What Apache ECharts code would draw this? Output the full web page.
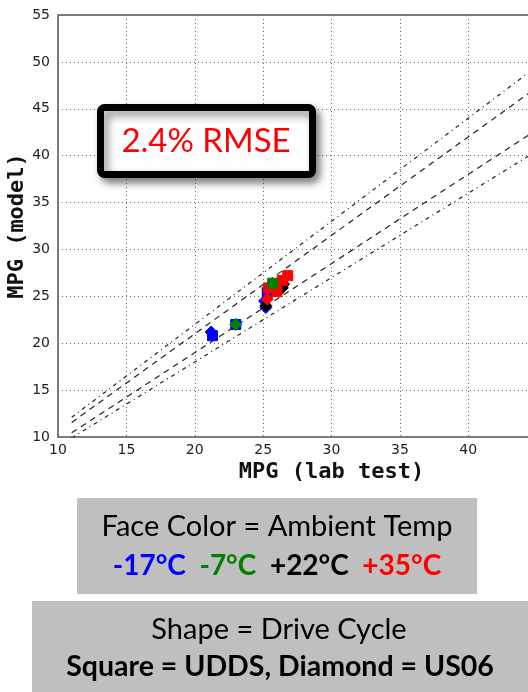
<!DOCTYPE html>
<html>
<head>
<meta charset="utf-8">
<script src="https://cdn.jsdelivr.net/npm/echarts@6/dist/echarts.min.js"></script>
<style>
  html, body { margin: 0; padding: 0; width: 528px; height: 692px; overflow: hidden; background: #fff; }
  #chart { width: 640px; height: 692px; }
</style>
</head>
<body>
<div id="chart"></div>
<script>
// reference lines (+10%, +5%, -5%, -10%)
var refX = [11, 50];
var plus10 = [12.1, 55];
var plus5 = [11.55, 52.5];
var minus5 = [10.45, 47.5];
var minus10 = [9.9, 45];

// points [lab test, model], square = UDDS, diamond = US06
var blueUdds = [[21.3, 20.8], [23.0, 22.0], [25.3, 25.4]];
var blueUs06 = [[21.2, 21.2], [25.1, 24.5], [25.2, 23.8]];
var greenUdds = [[25.7, 26.4]];
var greenUs06 = [[23.0, 22.0]];
var blackUs06 = [[25.2, 24.0], [26.4, 25.9], [26.5, 26.3]];
var redUdds = [[25.4, 25.9], [26.0, 25.5], [26.4, 26.7], [26.8, 27.2]];
var redUs06 = [[25.3, 24.7]];

var xTicks = { min: 10, max: 50, step: 5 };
var yTicks = { min: 10, max: 55, step: 5 };

function refLine(ys, dash) {
  return {
    type: 'line', data: refX.map(function(x, i) { return [x, ys[i]]; }),
    symbol: 'none', silent: true, z: 1,
    lineStyle: { color: '#222', width: 1.2, type: dash }
  };
}
function pts(data, color, shape) {
  return {
    type: 'scatter', data: data, symbol: shape,
    symbolSize: shape === 'rect' ? 10 : 12, z: 3,
    itemStyle: { color: color, borderColor: color, borderWidth: 1, opacity: 1 }
  };
}

var font = 'Lato, "Open Sans", sans-serif';
var chart = echarts.init(document.getElementById('chart'), null, { renderer: 'canvas' });
chart.setOption({
  animation: false,
  grid: {
    left: 58, top: 15, width: 547, height: 422, outerBoundsMode: 'none', containLabel: false,
    show: true, borderColor: '#555', borderWidth: 1.5
  },
  xAxis: {
    type: 'value', min: xTicks.min, max: xTicks.max, interval: xTicks.step,
    name: 'MPG (lab test)', nameLocation: 'middle', nameGap: 24, nameMoveOverlap: false,
    nameTextStyle: { fontFamily: '"DejaVu Sans Mono"', fontWeight: 'bold', fontSize: 22, color: '#111' },
    axisLine: { show: false }, axisTick: { show: false },
    axisLabel: { fontFamily: '"DejaVu Sans"', fontSize: 14, color: '#222', margin: 6 },
    splitLine: { lineStyle: { color: '#666', type: [1, 3], width: 1 } }
  },
  yAxis: {
    type: 'value', min: yTicks.min, max: yTicks.max, interval: yTicks.step,
    name: 'MPG (model)', nameLocation: 'middle', nameGap: 30, nameMoveOverlap: false,
    nameTextStyle: { fontFamily: '"DejaVu Sans Mono"', fontWeight: 'bold', fontSize: 22, color: '#111' },
    axisLine: { show: false }, axisTick: { show: false },
    axisLabel: { fontFamily: '"DejaVu Sans"', fontSize: 14, color: '#222', margin: 8 },
    splitLine: { lineStyle: { color: '#666', type: [1, 3], width: 1 } }
  },
  series: [
    refLine(plus10, [4, 4, 1, 4]),
    refLine(plus5, [6, 5]),
    refLine(minus5, [6, 5]),
    refLine(minus10, [4, 4, 1, 4]),
    pts(blueUdds, '#0000ff', 'rect'),
    pts(blueUs06, '#0000ff', 'diamond'),
    pts(greenUs06, '#008000', 'diamond'),
    pts(blackUs06, '#000000', 'diamond'),
    pts(redUs06, '#ff0000', 'diamond'),
    pts(redUdds, '#ff0000', 'rect'),
    pts(greenUdds, '#008000', 'rect')
  ],
  graphic: [
    {
      type: 'rect', z: 10,
      shape: { x: 100.5, y: 107.5, width: 212, height: 67, r: 4 },
      style: { fill: '#fff', stroke: '#000', lineWidth: 7, shadowBlur: 8, shadowOffsetX: 4, shadowOffsetY: 5, shadowColor: 'rgba(0,0,0,0.45)' }
    },
    {
      type: 'text', z: 11, x: 206, y: 141,
      style: { text: '2.4% RMSE', fill: '#ff0000', font: '33px ' + font, align: 'center', verticalAlign: 'middle' }
    },
    { type: 'rect', z: 10, shape: { x: 77, y: 498, width: 400, height: 96 }, style: { fill: '#bfbfbf' } },
    {
      type: 'text', z: 11, x: 277, y: 527,
      style: { text: 'Face Color = Ambient Temp', fill: '#000', font: '29px ' + font, align: 'center', verticalAlign: 'middle' }
    },
    {
      type: 'text', z: 11, x: 277, y: 566,
      style: {
        text: '{b|-17°C}  {g|-7°C}  {k|+22°C}  {r|+35°C}', align: 'center', verticalAlign: 'middle',
        font: 'bold 28px ' + font,
        rich: {
          b: { fill: '#0000ff', font: 'bold 28px ' + font },
          g: { fill: '#008000', font: 'bold 28px ' + font },
          k: { fill: '#000000', font: 'bold 28px ' + font },
          r: { fill: '#ff0000', font: 'bold 28px ' + font }
        }
      }
    },
    { type: 'rect', z: 10, shape: { x: 32, y: 601, width: 600, height: 91 }, style: { fill: '#bfbfbf' } },
    {
      type: 'text', z: 11, x: 279, y: 630,
      style: { text: 'Shape = Drive Cycle', fill: '#000', font: '29px ' + font, align: 'center', verticalAlign: 'middle' }
    },
    {
      type: 'text', z: 11, x: 280, y: 667,
      style: { text: 'Square = UDDS, Diamond = US06', fill: '#000', font: 'bold 28.5px ' + font, align: 'center', verticalAlign: 'middle' }
    }
  ]
});
</script>
</body>
</html>
